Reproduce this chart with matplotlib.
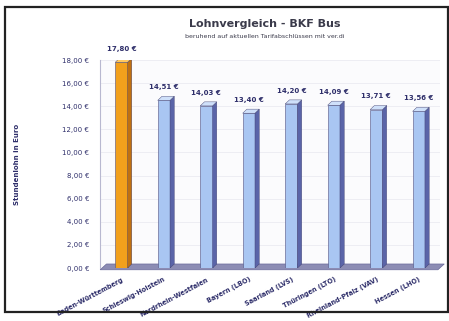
import matplotlib.pyplot as plt
from matplotlib.patches import Polygon, Rectangle

# Daten
laender = ['Baden-Württemberg', 'Schleswig-Holstein', 'Nordrhein-Westfalen',
           'Bayern (LBO)', 'Saarland (LVS)', 'Thüringen (LTO)',
           'Rheinland-Pfalz (VAV)', 'Hessen (LHO)']
lohn = [17.80, 14.51, 14.03, 13.40, 14.20, 14.09, 13.71, 13.56]
yticks = [0, 2, 4, 6, 8, 10, 12, 14, 16, 18]

txt = '#2e2e6a'
fig = plt.figure(figsize=(4.49, 3.21), dpi=100)
fig.patch.set_facecolor('white')

# Rahmen des Scans
fig.add_artist(Rectangle((0.012, 0.028), 0.985, 0.95, transform=fig.transFigure,
                         fill=False, edgecolor='#222222', linewidth=1.6))

ax = fig.add_axes([0.223, 0.165, 0.757, 0.648])
ax.set_xlim(-0.5, 7.5)
ax.set_ylim(0, 18)
ax.set_facecolor('#fbfbfd')

w = 0.29
dx, dy = 0.1, 0.35
for i, v in enumerate(lohn):
    if i == 0:
        front, side, top = '#f2a01c', '#c07010', '#ffc860'
    else:
        front, side, top = '#a9c6f2', '#5a64a8', '#cfe0fa'
    ax.bar(i, v, width=w, color=front, edgecolor='#505080', linewidth=0.4, zorder=3)
    x1 = i + w / 2
    ax.add_patch(Polygon([(x1, 0), (x1 + dx, dy), (x1 + dx, v + dy), (x1, v)],
                         closed=True, facecolor=side, edgecolor='#404070',
                         linewidth=0.3, zorder=3))
    x0 = i - w / 2
    ax.add_patch(Polygon([(x0, v), (x0 + dx, v + dy), (x1 + dx, v + dy), (x1, v)],
                         closed=True, facecolor=top, edgecolor='#404070',
                         linewidth=0.3, zorder=3))
    ax.text(i, v + 0.9, f'{v:.2f} €'.replace('.', ','), ha='center', va='bottom',
            fontsize=5, fontweight='bold', color=txt, zorder=4)

# Boden
ax.add_patch(Polygon([(-0.5, -0.15), (-0.35, 0.35), (7.6, 0.35), (7.45, -0.15)],
                     closed=True, facecolor='#8c8cb4', edgecolor='#6a6a9a',
                     linewidth=0.5, zorder=2, clip_on=False))

ax.set_yticks(yticks)
ax.set_yticklabels([f'{t:.2f} €'.replace('.', ',') for t in yticks],
                   fontsize=5, color=txt)
ax.set_xticks(range(len(laender)))
ax.set_xticklabels(laender, rotation=28, ha='right', fontsize=4.7,
                   fontweight='bold', color=txt, rotation_mode='anchor')
ax.tick_params(axis='x', length=0, pad=6)
ax.tick_params(axis='y', length=0, pad=8)
for t in yticks:
    ax.axhline(t, color='#e8e8f0', linewidth=0.5, zorder=1)
for s in ['top', 'right', 'bottom']:
    ax.spines[s].set_visible(False)
ax.spines['left'].set_color('#b8b8d0')
ax.spines['left'].set_linewidth(0.8)

ax.set_ylabel('Stundenlohn in Euro', fontsize=5, fontweight='bold', color=txt,
              labelpad=30)

fig.text(0.59, 0.925, 'Lohnvergleich - BKF Bus', ha='center', va='center',
         fontsize=8, fontweight='bold', color='#3a3a4a')
fig.text(0.59, 0.885, 'beruhend auf aktuellen Tarifabschlüssen mit ver.di',
         ha='center', va='center', fontsize=4.5, color='#3a3a4a')

fig.savefig('out.png', dpi=100)
